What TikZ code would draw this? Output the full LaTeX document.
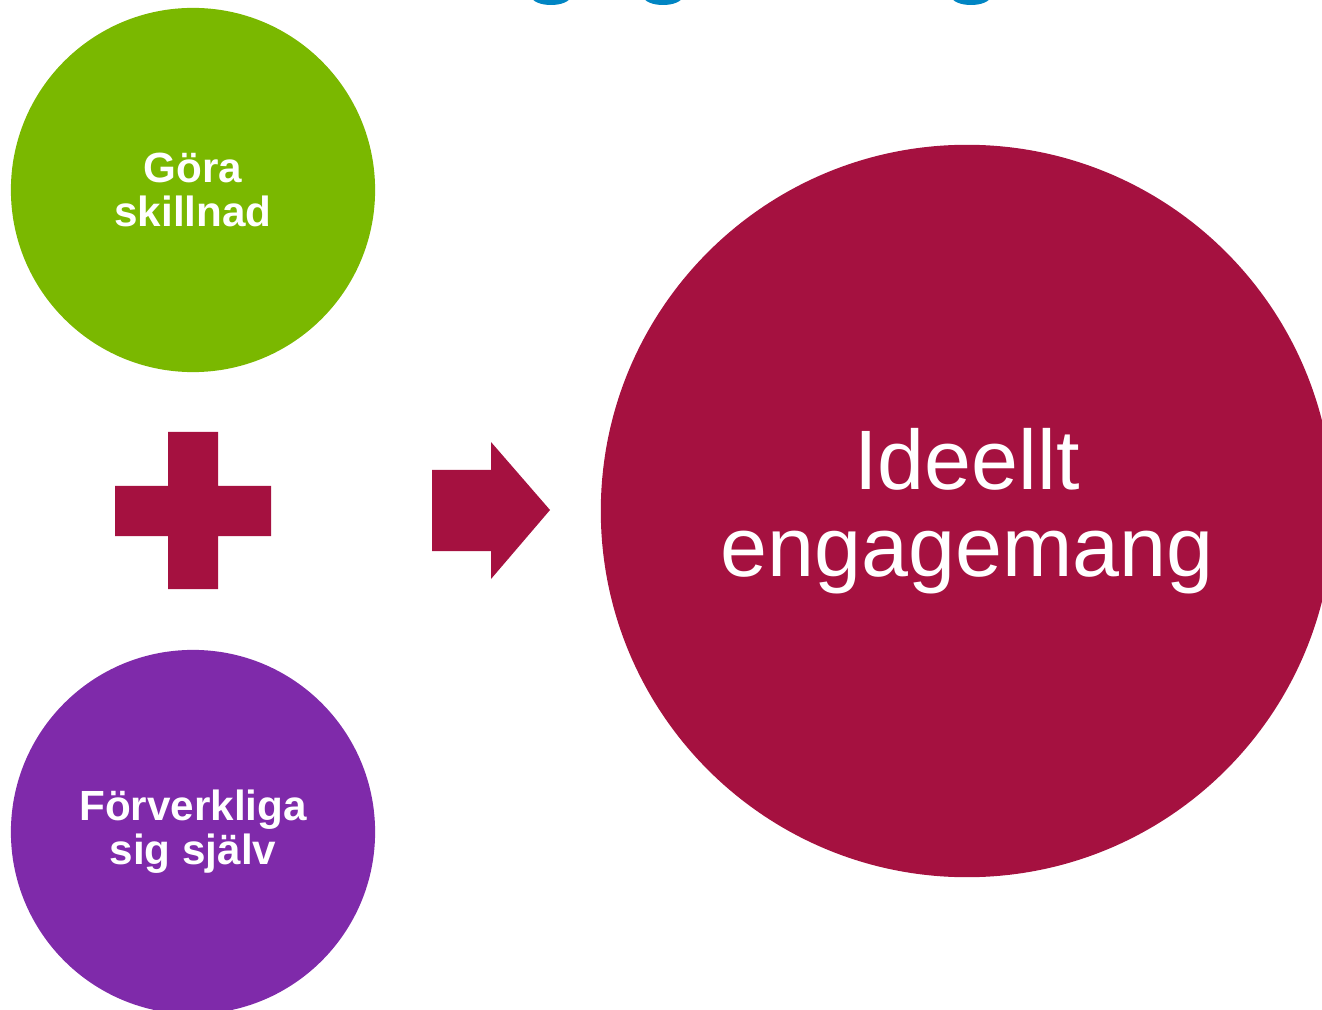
\documentclass[tikz,border=0pt]{standalone}
\usepackage{fontspec}
\setmainfont{Liberation Sans}
\usetikzlibrary{positioning}

\definecolor{gronska}{HTML}{7AB800}
\definecolor{lila}{HTML}{7F2AAA}
\definecolor{vinrod}{HTML}{A51140}
\definecolor{bla}{HTML}{0085C3}

\begin{document}
\begin{tikzpicture}[x=0.01cm,y=-0.01cm]
        \tikzstyle{every node}=[text=white, align=center, inner sep=0pt]
        \tikzstyle{liten}=[circle, minimum size=3.64cm, font=\bfseries\fontsize{12}{12.5}\selectfont]
        \tikzstyle{stor}=[circle, minimum size=7.32cm, font=\fontsize{24}{24.75}\selectfont]

        \useasboundingbox (0,0) rectangle (1322,1010);
        \clip (0,0) rectangle (1322,1010);

        % rubrikens rester upptill
        \foreach \x in {551,663,971}
          \fill[bla] (\x,-3) ellipse [x radius=19, y radius=8];

        \node[liten, fill=gronska]  (gora)  at (193,190)  {Göra\\skillnad};
        \node[liten, fill=lila]     (forv)  at (193,832)  {Förverkliga\\sig själv};
        \node[stor, fill=vinrod]    (ideel) at (967,511)  {Ideellt\\engagemang};

        % plus och pil
        \fill[vinrod] (168,432) -- (218,432) -- (218,486) -- (271,486) -- (271,536)
          -- (218,536) -- (218,589) -- (168,589) -- (168,536) -- (115,536)
          -- (115,486) -- (168,486) -- cycle;
        \fill[vinrod] (432,470) -- (491,470) -- (491,442) -- (550,510)
          -- (491,579) -- (491,551) -- (432,551) -- cycle;
      \end{tikzpicture}
\end{document}
